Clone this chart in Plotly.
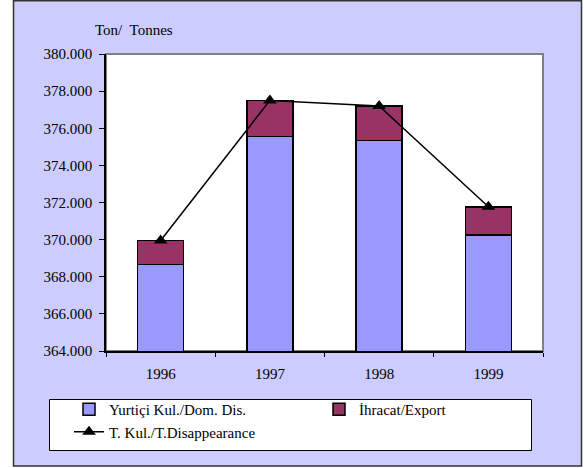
import plotly.graph_objects as go

years = ["1996", "1997", "1998", "1999"]
domestic = [368650, 375550, 375350, 370250]   # Yurtiçi Kul./Dom. Dis.
export = [1300, 1950, 1850, 1520]             # İhracat/Export
total = [369950, 377500, 377200, 371770]      # T. Kul./T.Disappearance
y_ticks = [364000, 366000, 368000, 370000, 372000, 374000, 376000, 378000, 380000]

W, H = 584, 468
L, R, T, B = 106, 41, 54, 117
pw, ph = W - L - R, H - T - B

def px_x(p):
    return (p - L) / pw

def px_y(p):
    return (H - B - p) / ph

FONT = "Liberation Serif, Times New Roman, serif"

fig = go.Figure()
fig.add_trace(go.Bar(
    x=years, y=domestic, name="Yurtiçi Kul./Dom. Dis.",
    marker=dict(color="#9999FF", line=dict(color="black", width=1.5)),
    width=0.42,
))
fig.add_trace(go.Bar(
    x=years, y=export, name="İhracat/Export",
    marker=dict(color="#993366", line=dict(color="black", width=1.5)),
    width=0.42,
))
fig.add_trace(go.Scatter(
    x=years, y=total, name="T. Kul./T.Disappearance", mode="lines+markers",
    line=dict(color="black", width=1.5),
    marker=dict(symbol="triangle-up", size=12, color="black"),
))

fig.update_layout(
    width=W, height=H,
    margin=dict(l=L, r=R, t=T, b=B),
    barmode="stack",
    separators=",.",
    paper_bgcolor="white",
    plot_bgcolor="rgba(0,0,0,0)",
    font=dict(family=FONT, size=15, color="black"),
    showlegend=True,
    legend=dict(
        orientation="h", traceorder="normal",
        x=px_x(69), xanchor="left", y=px_y(393), yanchor="top",
        bgcolor="rgba(0,0,0,0)", borderwidth=0,
        font=dict(family=FONT, size=15, color="black"),
        entrywidth=205, entrywidthmode="pixels",
        itemwidth=30, tracegroupgap=0,
    ),
    xaxis=dict(
        type="category", showline=True, linecolor="black", linewidth=1.5,
        ticks="outside", tickson="boundaries", ticklen=4, tickcolor="black",
        showgrid=False, zeroline=False, ticklabelstandoff=8,
    ),
    yaxis=dict(
        range=[364000, 380000], tickvals=y_ticks, tickformat=",d",
        showline=True, linecolor="black", linewidth=1.5,
        ticks="outside", ticklen=5, tickcolor="black",
        showgrid=False, zeroline=False, ticklabelstandoff=4,
    ),
    shapes=[
        # outer chart frame
        dict(type="rect", xref="paper", yref="paper", layer="below",
             x0=px_x(13.5), x1=px_x(581.5), y0=px_y(0.7), y1=px_y(466),
             fillcolor="#CCCCFF", line=dict(color="#333333", width=1.5)),
        # plot area
        dict(type="rect", xref="paper", yref="paper", layer="below",
             x0=0, x1=1, y0=0, y1=1,
             fillcolor="white", line=dict(color="#808080", width=2)),
        # legend box
        dict(type="rect", xref="paper", yref="paper", layer="below",
             x0=px_x(49.5), x1=px_x(531.5), y0=px_y(399.5), y1=px_y(450.5),
             fillcolor="white", line=dict(color="black", width=1)),
    ],
    annotations=[
        dict(text="Ton/  Tonnes", xref="paper", yref="paper",
             x=px_x(93), y=px_y(30), xanchor="left", yanchor="middle",
             showarrow=False, font=dict(family=FONT, size=15, color="black")),
    ],
)

fig.write_html("out.html",
               config={"displayModeBar": False},
               post_script="document.body.style.margin='0';document.body.style.overflow='hidden';")
